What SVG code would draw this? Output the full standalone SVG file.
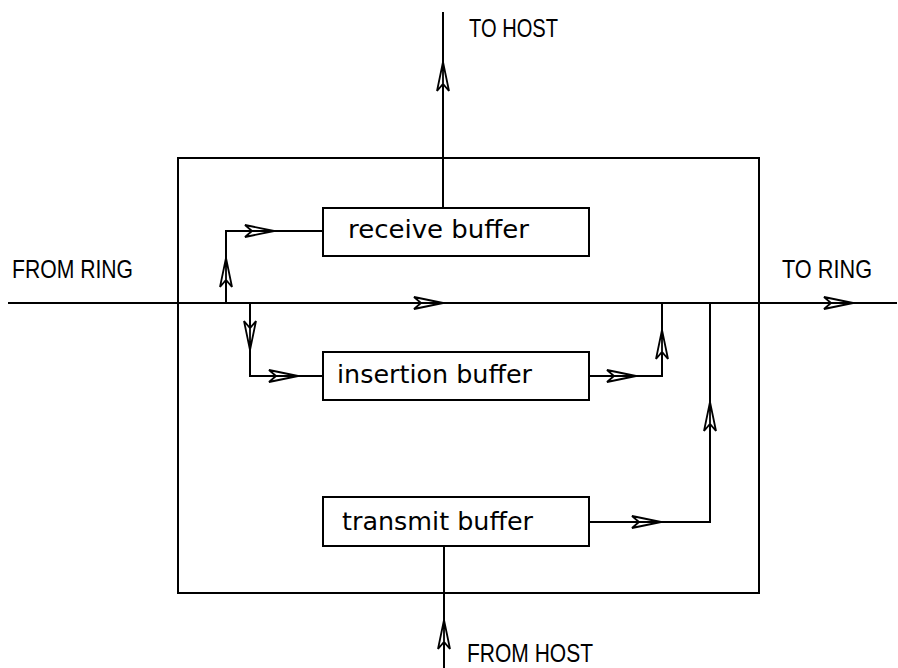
<svg xmlns="http://www.w3.org/2000/svg" width="898" height="668" viewBox="0 0 898 668">
<style>
.ln{fill:none;stroke:#000;stroke-width:2}
.box{fill:#fff;stroke:#000;stroke-width:2}
.ah{fill:#fff;stroke:#000;stroke-width:1.8;stroke-linejoin:miter}
.lbl{font-family:"DejaVu Sans","Liberation Sans",sans-serif;font-size:24px;fill:#000}
.cap{font-family:"Liberation Sans","DejaVu Sans",sans-serif;font-size:26px;fill:#000}
</style>
<defs>
<path id="arr" d="M0,0 L-29,-6 L-22,0 L-29,6 Z M-22,0 L0,0"/>
</defs>
<rect width="898" height="668" fill="#fff"/>
<g id="unit">
<rect class="ln" x="178" y="158" width="581" height="435"/>
</g>
<g id="connectors">
<path class="ln" d="M8,303 H897"/>
<path class="ln" d="M443,208 V12"/>
<path class="ln" d="M226,303 V231 H323"/>
<path class="ln" d="M250,303 V376 H323"/>
<path class="ln" d="M589,376 H662 V303"/>
<path class="ln" d="M589,522 H710 V303"/>
<path class="ln" d="M444,668 V546"/>
<use href="#arr" class="ah" transform="translate(443,303)"/>
<use href="#arr" class="ah" transform="translate(853,303)"/>
<use href="#arr" class="ah" transform="translate(443,62) rotate(-90)"/>
<use href="#arr" class="ah" transform="translate(226,258) rotate(-90)"/>
<use href="#arr" class="ah" transform="translate(274,231)"/>
<use href="#arr" class="ah" transform="translate(250,350) rotate(90)"/>
<use href="#arr" class="ah" transform="translate(298,376)"/>
<use href="#arr" class="ah" transform="translate(636,376)"/>
<use href="#arr" class="ah" transform="translate(662,330) rotate(-90)"/>
<use href="#arr" class="ah" transform="translate(661,522)"/>
<use href="#arr" class="ah" transform="translate(710,402) rotate(-90)"/>
<use href="#arr" class="ah" transform="translate(444,620) rotate(-90)"/>
</g>
<g id="receive-buffer">
<rect class="box" x="323" y="208" width="266" height="48"/>
<text class="lbl" x="348" y="238" textLength="181" lengthAdjust="spacingAndGlyphs">receive buffer</text>
</g>
<g id="insertion-buffer">
<rect class="box" x="323" y="352" width="266" height="48"/>
<text class="lbl" x="337" y="383" textLength="195" lengthAdjust="spacingAndGlyphs">insertion buffer</text>
</g>
<g id="transmit-buffer">
<rect class="box" x="323" y="497" width="266" height="49"/>
<text class="lbl" x="342" y="530" textLength="191" lengthAdjust="spacingAndGlyphs">transmit buffer</text>
</g>
<g id="labels">
<text class="cap" x="469" y="37" textLength="89" lengthAdjust="spacingAndGlyphs">TO HOST</text>
<text class="cap" x="12" y="278" textLength="121" lengthAdjust="spacingAndGlyphs">FROM RING</text>
<text class="cap" x="782" y="278" textLength="90" lengthAdjust="spacingAndGlyphs">TO RING</text>
<text class="cap" x="467" y="662" textLength="126" lengthAdjust="spacingAndGlyphs">FROM HOST</text>
</g>
</svg>
